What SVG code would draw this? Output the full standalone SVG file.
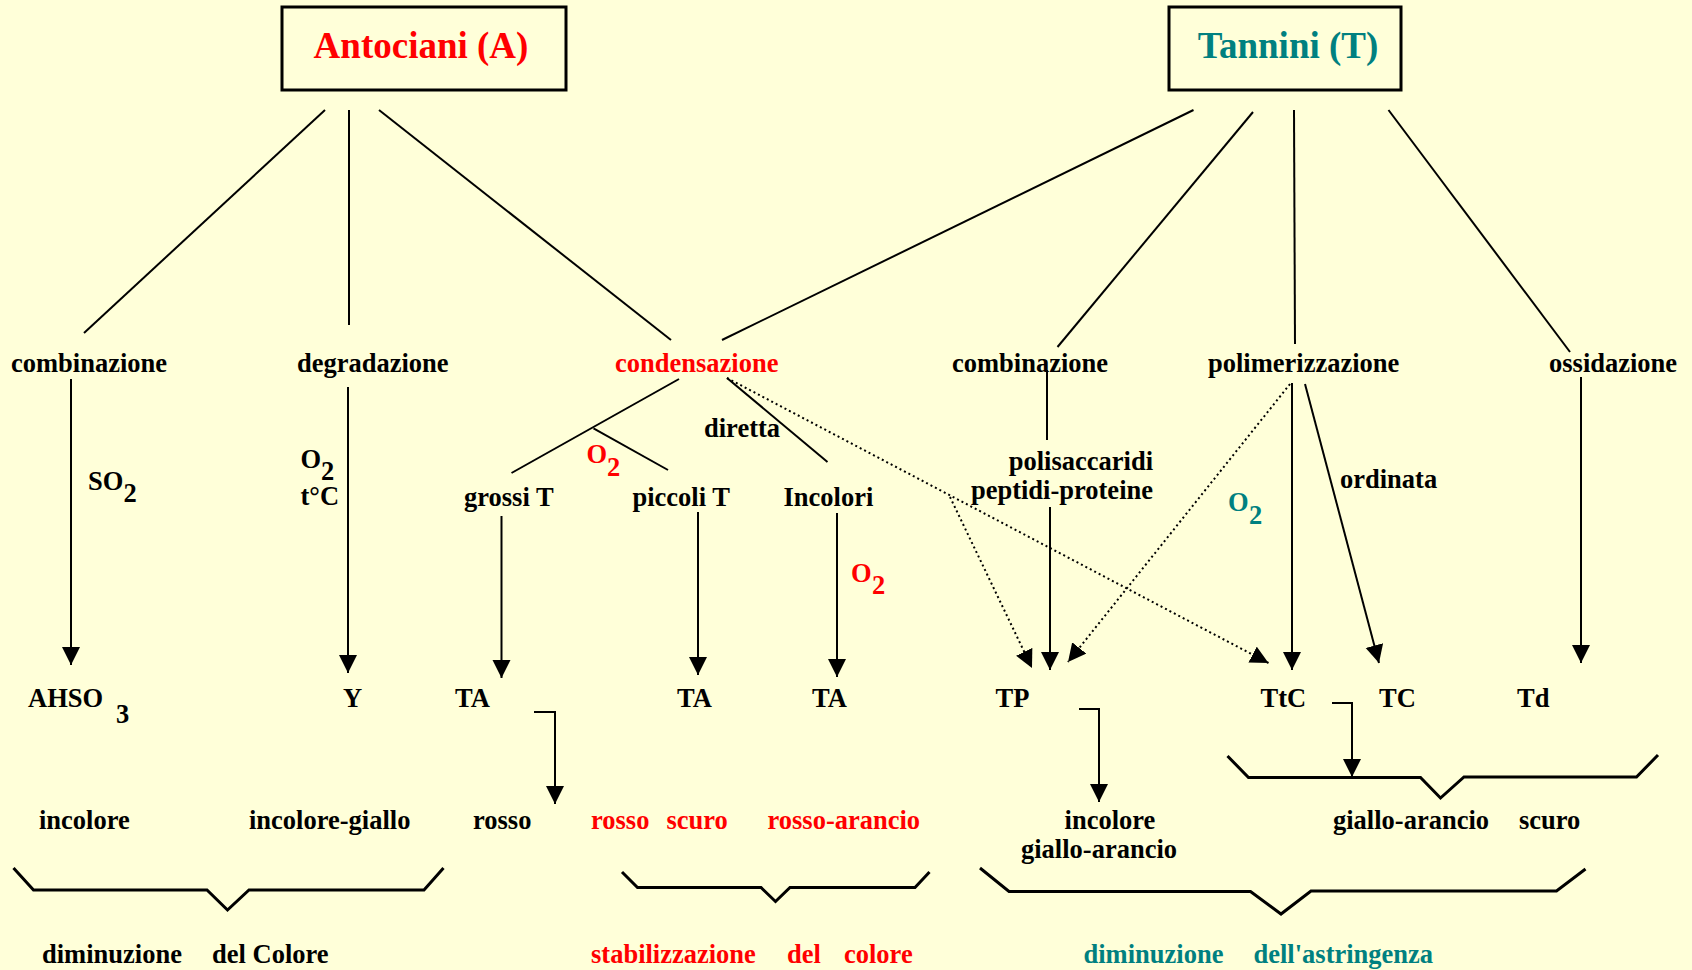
<svg xmlns="http://www.w3.org/2000/svg" width="1692" height="970" viewBox="0 0 1692 970">
<defs>
<style>
text{font-family:"Liberation Serif","Times New Roman",serif;font-weight:bold;font-size:26.5px;fill:#000}
.red{fill:#ff0000}
.teal{fill:#008080}
.title{font-size:37px}
.ln{stroke:#000;stroke-width:2;fill:none}
.ar{stroke:#000;stroke-width:2;fill:none;marker-end:url(#ah)}
.dotar{stroke:#000;stroke-width:2;fill:none;stroke-dasharray:2 3;marker-end:url(#ah)}
.brace{stroke:#000;stroke-width:3;fill:none}
.box{stroke:#000;stroke-width:3;fill:none}
</style>
<marker id="ah" markerUnits="userSpaceOnUse" markerWidth="20" markerHeight="20" refX="18" refY="9" orient="auto" viewBox="0 0 20 20">
<path d="M0,0 L18,9 L0,18 z" fill="#000"/>
</marker>
</defs>
<rect width="1692" height="970" fill="#ffffd9"/>

<g id="connectors">
<line class="ln" x1="325" y1="110" x2="84" y2="333"/>
<line class="ln" x1="349" y1="110" x2="349" y2="325"/>
<line class="ln" x1="379" y1="110" x2="671" y2="340"/>
<line class="ln" x1="1193.5" y1="110" x2="722" y2="340"/>
<line class="ln" x1="1253" y1="112" x2="1057.5" y2="347"/>
<line class="ln" x1="1294" y1="110" x2="1295" y2="344"/>
<line class="ln" x1="1388.5" y1="110" x2="1570" y2="352"/>

<line class="ar" x1="71" y1="379" x2="71" y2="665"/>
<line class="ar" x1="348" y1="387" x2="348" y2="673"/>
<line class="ar" x1="501.5" y1="516" x2="501.5" y2="678"/>
<line class="ar" x1="698" y1="512" x2="698" y2="675"/>
<line class="ar" x1="837" y1="513" x2="837" y2="677"/>

<line class="ln" x1="679" y1="379" x2="511.5" y2="473"/>
<line class="ln" x1="593.5" y1="428.4" x2="668" y2="470"/>
<line class="ln" x1="727" y1="378" x2="827.5" y2="462"/>

<line class="dotar" x1="727" y1="378" x2="1268.5" y2="663"/>
<line class="dotar" x1="950" y1="497" x2="1032" y2="668"/>
<line class="dotar" x1="1290" y1="384" x2="1068" y2="662"/>

<line class="ln" x1="1047" y1="370" x2="1047" y2="440"/>
<line class="ar" x1="1050" y1="507" x2="1050" y2="670"/>
<line class="ar" x1="1292" y1="383" x2="1292" y2="670"/>
<line class="ar" x1="1305" y1="384" x2="1379" y2="663"/>
<line class="ar" x1="1581" y1="377" x2="1581" y2="663"/>

<polyline class="ar" points="534,712 555,712 555,804"/>
<polyline class="ar" points="1079,709 1099,709 1099,802"/>
<polyline class="ar" points="1332,703 1352,703 1352,777"/>

<polyline class="brace" points="13.5,868 33.5,890 207,890 227.5,910 249,890 424,890 443.5,868"/>
<polyline class="brace" points="622,872 637.5,887.5 761,887.5 775.5,901.5 790,887.5 915,887.5 929.5,872"/>
<polyline class="brace" points="980,868 1009,891.5 1250.5,891.5 1281,914 1311,891 1556.5,891 1585.5,869"/>
<polyline class="brace" points="1227.5,756 1248.5,777.5 1420.5,777.5 1440.5,798 1464,777 1636.5,777 1658,755"/>
</g>

<g id="antociani">
<rect class="box" x="282" y="7" width="284" height="83"/>
<text class="title red" x="421" y="58" text-anchor="middle">Antociani (A)</text>
</g>
<g id="tannini">
<rect class="box" x="1169" y="7" width="232" height="83"/>
<text class="title teal" x="1288" y="58" text-anchor="middle">Tannini (T)</text>
</g>

<g id="combinazione-a"><text x="11" y="372">combinazione</text></g>
<g id="degradazione"><text x="297" y="372">degradazione</text></g>
<g id="condensazione"><text class="red" x="615" y="372">condensazione</text></g>
<g id="combinazione-t"><text x="952" y="372">combinazione</text></g>
<g id="polimerizzazione"><text x="1208" y="372">polimerizzazione</text></g>
<g id="ossidazione"><text x="1549" y="372">ossidazione</text></g>

<g id="so2"><text><tspan x="88" y="490">SO</tspan><tspan x="123.5" y="502">2</tspan></text></g>
<g id="o2-tc"><text><tspan x="300.5" y="468">O</tspan><tspan x="321" y="480">2</tspan><tspan x="300.5" y="505">t°C</tspan></text></g>
<g id="o2-cond"><text class="red"><tspan x="586.5" y="463">O</tspan><tspan x="607" y="476">2</tspan></text></g>
<g id="diretta"><text x="704" y="437">diretta</text></g>
<g id="grossi"><text x="464" y="506">grossi T</text></g>
<g id="piccoli"><text x="632.5" y="506">piccoli T</text></g>
<g id="incolori"><text x="783.5" y="506">Incolori</text></g>
<g id="o2-inc"><text class="red"><tspan x="851" y="582">O</tspan><tspan x="872" y="594">2</tspan></text></g>
<g id="polisaccaridi"><text x="1153" y="470" text-anchor="end">polisaccaridi</text><text x="1153" y="499" text-anchor="end">peptidi-proteine</text></g>
<g id="ordinata"><text x="1340" y="488">ordinata</text></g>
<g id="o2-pol"><text class="teal"><tspan x="1228" y="511">O</tspan><tspan x="1249" y="524">2</tspan></text></g>

<g id="ahso3"><text><tspan x="28" y="707">AHSO</tspan><tspan x="116" y="723">3</tspan></text></g>
<g id="y"><text x="343" y="707">Y</text></g>
<g id="ta1"><text x="455" y="707">TA</text></g>
<g id="ta2"><text x="677" y="707">TA</text></g>
<g id="ta3"><text x="812" y="707">TA</text></g>
<g id="tp"><text x="995.5" y="707">TP</text></g>
<g id="ttc"><text x="1260.5" y="707">TtC</text></g>
<g id="tc"><text x="1379" y="707">TC</text></g>
<g id="td"><text x="1517" y="707">Td</text></g>

<g id="incolore"><text x="39" y="829">incolore</text></g>
<g id="incolore-giallo"><text x="249" y="829">incolore-giallo</text></g>
<g id="rosso"><text x="473" y="829">rosso</text></g>
<g id="rosso-scuro"><text class="red"><tspan x="591" y="829">rosso</tspan><tspan x="666.5" y="829">scuro</tspan></text></g>
<g id="rosso-arancio"><text class="red" x="767.5" y="829">rosso-arancio</text></g>
<g id="incolore-ga"><text x="1110" y="829" text-anchor="middle">incolore</text><text x="1099" y="858" text-anchor="middle">giallo-arancio</text></g>
<g id="giallo-arancio-scuro"><text><tspan x="1333" y="829">giallo-arancio</tspan><tspan x="1519" y="829">scuro</tspan></text></g>

<g id="dim-colore"><text><tspan x="42" y="963">diminuzione</tspan><tspan x="212" y="963">del Colore</tspan></text></g>
<g id="stab-colore"><text class="red"><tspan x="591" y="963">stabilizzazione</tspan><tspan x="787" y="963">del</tspan><tspan x="844" y="963">colore</tspan></text></g>
<g id="dim-astr"><text class="teal"><tspan x="1083.5" y="963">diminuzione</tspan><tspan x="1253.5" y="963">dell'astringenza</tspan></text></g>
</svg>
